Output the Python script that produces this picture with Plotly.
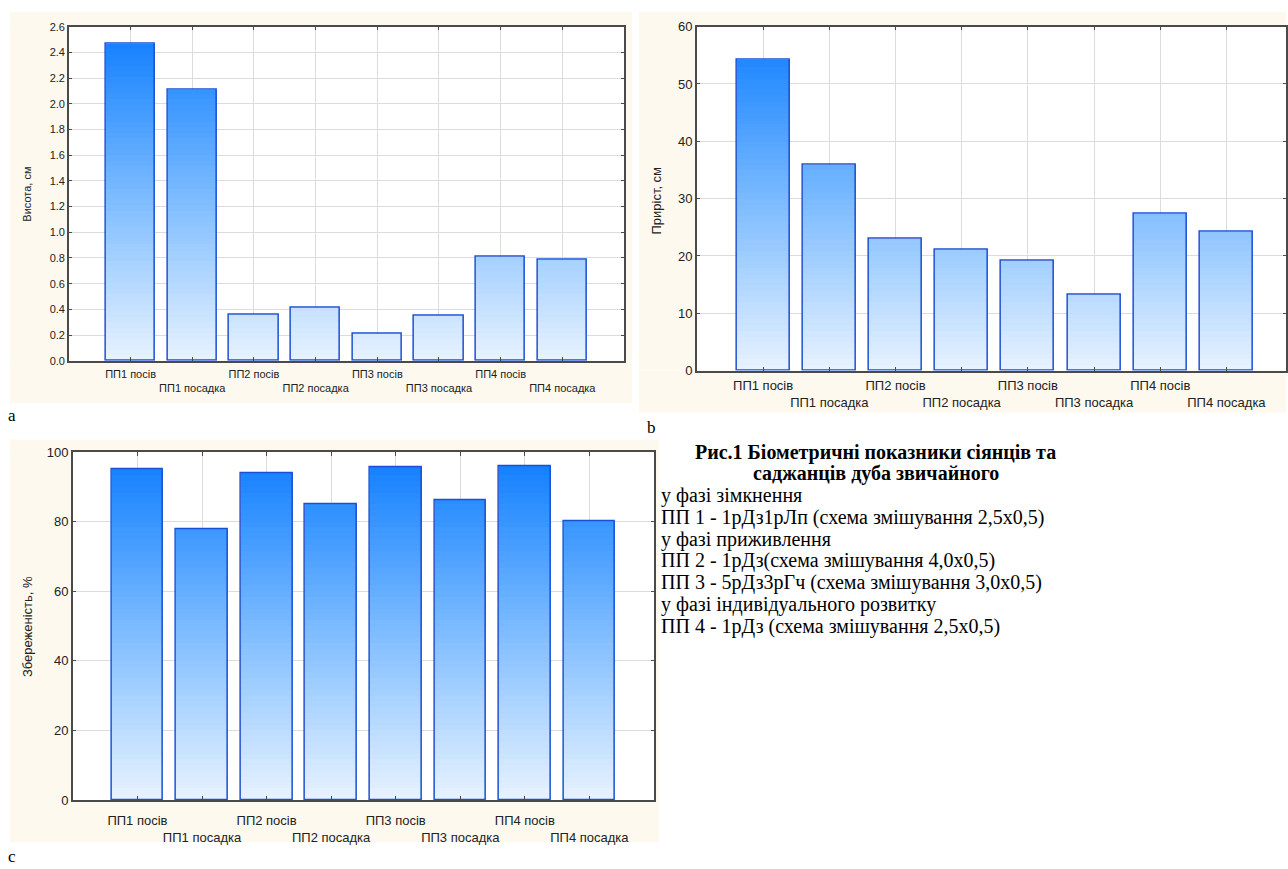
import plotly.graph_objects as go

# ---- data -------------------------------------------------------------
categories = ["ПП1 посів", "ПП1 посадка", "ПП2 посів", "ПП2 посадка",
              "ПП3 посів", "ПП3 посадка", "ПП4 посів", "ПП4 посадка"]
height_cm = [2.47, 2.11, 0.36, 0.41, 0.21, 0.35, 0.81, 0.79]
growth_cm = [54.3, 36.0, 23.0, 21.1, 19.2, 13.2, 27.3, 24.2]
survival_pct = [95.2, 78.0, 94.1, 85.0, 95.8, 86.2, 96.0, 80.2]

caption_title = ["Рис.1 Біометричні показники сіянців та",
                 "саджанців дуба звичайного"]
caption_lines = ["у фазі зімкнення",
                 "ПП 1 - 1рДз1рЛп (схема змішування 2,5х0,5)",
                 "у фазі приживлення",
                 "ПП 2 - 1рДз(схема змішування 4,0х0,5)",
                 "ПП 3 - 5рДз3рГч (схема змішування 3,0х0,5)",
                 "у фазі індивідуального розвитку",
                 "ПП 4 - 1рДз (схема змішування 2,5х0,5)"]

# ---- page geometry ----------------------------------------------------
W, H = 1288, 869
SANS = "Liberation Sans, Arial, sans-serif"
SERIF = "Liberation Serif, Times New Roman, serif"
CREAM = "#fdf9ee"
LINE_STEP = 22.2
CAPTION_FS = 20


def px(x):
    return x / W


def py(y):
    return 1 - y / H


panels = [
    dict(key="", values=height_cm, ymax=2.6, dtick=0.2, fmt=".1f",
         title="Висота, см", xdom=(69, 625), ydom=(20, 360), xmax=9.0,
         fs=11, standoff=2, title_xy=(27, 190), cream=(10, 5, 633, 403),
         letter=("a", 6, 416)),
    dict(key="2", values=growth_cm, ymax=60, dtick=10, fmt="d",
         title="Приріст, см", xdom=(698, 1288), ydom=(20, 370), xmax=8.9,
         fs=13, standoff=2, title_xy=(658, 197), cream=(640, 5, 1288, 413),
         letter=("b", 646, 428)),
    dict(key="3", values=survival_pct, ymax=100, dtick=20, fmt="d",
         title="Збереженість, %", xdom=(73, 655), ydom=(453, 807), xmax=9.0,
         fs=13, standoff=8, title_xy=(27, 630), cream=(10, 440, 660, 850),
         letter=("c", 6, 864)),
]

positions = list(range(1, len(categories) + 1))
ticktext = [c if i % 2 == 0 else "<br>" + c for i, c in enumerate(categories)]

# vertical colour ramp: light at the baseline, saturated blue at the top of the axis
ramp = [(0.0, (232, 243, 255)), (0.5, (122, 186, 255)), (1.0, (12, 124, 255))]


def ramp_color(t):
    t = max(0.0, min(1.0, t))
    for (t0, c0), (t1, c1) in zip(ramp[:-1], ramp[1:]):
        if t <= t1:
            f = (t - t0) / (t1 - t0)
            return "rgb(%d,%d,%d)" % tuple(round(a + (b - a) * f) for a, b in zip(c0, c1))
    return "rgb(%d,%d,%d)" % ramp[-1][1]


fig = go.Figure()
LEVELS = 60
BAR_W = 0.8

for p in panels:
    xa, ya = "x" + p["key"], "y" + p["key"]
    # gradient: stacked overlays, each clipped at its level
    for k in range(LEVELS, 0, -1):
        level = p["ymax"] * k / LEVELS
        fig.add_trace(go.Bar(
            x=positions, y=[min(v, level) for v in p["values"]],
            width=BAR_W, xaxis=xa, yaxis=ya,
            marker=dict(color=ramp_color((k - 0.5) / LEVELS), line=dict(width=0)),
            hoverinfo="skip", showlegend=False))
    # bar outlines
    fig.add_trace(go.Bar(
        x=positions, y=p["values"], width=BAR_W, xaxis=xa, yaxis=ya,
        marker=dict(color="rgba(0,0,0,0)", line=dict(color="rgb(28,80,210)", width=1.5)),
        hovertemplate="%{y}<extra></extra>", showlegend=False))

layout = dict(
    width=W, height=H, margin=dict(l=0, r=0, t=0, b=0),
    paper_bgcolor="white", plot_bgcolor="white",
    barmode="overlay", showlegend=False, bargap=0,
)


def rect(x0, y0, x1, y1, color):
    return dict(type="rect", xref="paper", yref="paper", layer="below",
                x0=px(x0), x1=px(x1), y0=py(y1), y1=py(y0),
                fillcolor=color, line=dict(width=0))


shapes, annotations = [], []
for p in panels:
    k = p["key"]
    layout["xaxis" + k] = dict(
        domain=[px(p["xdom"][0]), px(p["xdom"][1])], anchor="y" + k,
        range=[0, p["xmax"]], tickvals=positions, ticktext=ticktext,
        tickangle=0, showgrid=True, gridcolor="#dcdcdc", gridwidth=1,
        showline=True, linecolor="#4a4a4a", linewidth=1.5, mirror="ticks",
        ticks="inside", ticklen=4, tickcolor="#4a4a4a", zeroline=False,
        ticklabelstandoff=p["standoff"],
        tickfont=dict(family=SANS, size=p["fs"], color="#222"), fixedrange=True)
    layout["yaxis" + k] = dict(
        domain=[py(p["ydom"][1]), py(p["ydom"][0])], anchor="x" + k,
        range=[0, p["ymax"]], dtick=p["dtick"], tickformat=p["fmt"],
        showgrid=True, gridcolor="#dcdcdc", gridwidth=1,
        showline=True, linecolor="#4a4a4a", linewidth=1.5, mirror="ticks",
        ticks="inside", ticklen=3, tickcolor="#4a4a4a", zeroline=False,
        tickfont=dict(family=SANS, size=p["fs"], color="#222"), fixedrange=True)
    # cream panel frame around the white plotting area
    cx0, cy0, cx1, cy1 = p["cream"]
    ax0, ax1 = p["xdom"]
    ay0, ay1 = p["ydom"]
    shapes += [rect(cx0, cy0, cx1, ay0, CREAM),
               rect(cx0, ay1, cx1, cy1, CREAM),
               rect(cx0, ay0, ax0, ay1, CREAM)]
    if cx1 > ax1:
        shapes.append(rect(ax1, ay0, cx1, ay1, CREAM))
    annotations.append(dict(text=p["title"], textangle=-90, xref="paper", yref="paper",
                            x=px(p["title_xy"][0]), y=py(p["title_xy"][1]),
                            xanchor="center", yanchor="middle", showarrow=False,
                            font=dict(family=SANS, size=p["fs"], color="#222")))
    letter, lx, ly = p["letter"]
    annotations.append(dict(text=letter, xref="paper", yref="paper", x=px(lx), y=py(ly),
                            xanchor="left", yanchor="middle", showarrow=False,
                            font=dict(family=SERIF, size=17, color="black")))

# figure caption
for i, line in enumerate(caption_title):
    annotations.append(dict(text="<b>%s</b>" % line, xref="paper", yref="paper",
                            x=px(877), y=py(453 + LINE_STEP * i), xanchor="center",
                            yanchor="middle", showarrow=False, borderpad=0,
                            font=dict(family=SERIF, size=CAPTION_FS, color="black")))
for i, line in enumerate(caption_lines):
    annotations.append(dict(text=line, xref="paper", yref="paper",
                            x=px(661), y=py(497 + LINE_STEP * i), xanchor="left",
                            yanchor="middle", showarrow=False, borderpad=0,
                            font=dict(family=SERIF, size=CAPTION_FS, color="black")))

layout["shapes"] = shapes
layout["annotations"] = annotations
fig.update_layout(**layout)
fig.write_html("out.html")
